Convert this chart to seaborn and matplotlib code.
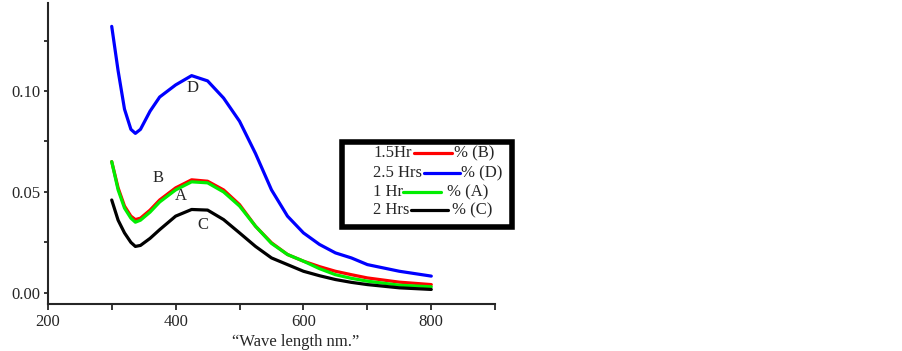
import numpy as np
import pandas as pd
import matplotlib
matplotlib.use("Agg")
import matplotlib.pyplot as plt
import seaborn as sns
from matplotlib.lines import Line2D
from matplotlib.patches import Rectangle

# wavelength (nm) and absorbance
wavelength = [300, 310, 320, 330, 337, 345, 360, 375, 400, 425, 450, 475, 500,
              525, 550, 575, 600, 625, 650, 675, 700, 750, 800]
abs_D = [0.132, 0.110, 0.091, 0.081, 0.079, 0.081, 0.090, 0.097, 0.103, 0.1076,
         0.105, 0.0965, 0.085, 0.069, 0.051, 0.038, 0.0297, 0.024, 0.0198,
         0.0173, 0.014, 0.0107, 0.0083]
abs_B = [0.065, 0.052, 0.043, 0.038, 0.0363, 0.037, 0.041, 0.046, 0.052, 0.056,
         0.0553, 0.051, 0.0437, 0.033, 0.0248, 0.019, 0.0157, 0.013, 0.0107,
         0.009, 0.0074, 0.0053, 0.0041]
abs_A = [0.065, 0.051, 0.042, 0.037, 0.035, 0.036, 0.040, 0.045, 0.051, 0.055,
         0.0545, 0.050, 0.043, 0.033, 0.0245, 0.019, 0.0157, 0.012, 0.009,
         0.0072, 0.0058, 0.0038, 0.003]
abs_C = [0.046, 0.036, 0.0297, 0.025, 0.023, 0.0235, 0.027, 0.0313, 0.038, 0.0413,
         0.041, 0.0363, 0.0297, 0.023, 0.0173, 0.014, 0.0107, 0.0085, 0.0066,
         0.0052, 0.0041, 0.0025, 0.0017]

series = {"B": abs_B, "D": abs_D, "A": abs_A, "C": abs_C}
colors = {"B": "#ff0000", "D": "#0000ff", "A": "#00ee00", "C": "#000000"}

df = pd.concat([pd.DataFrame({"wl": wavelength, "abs": v, "curve": k})
                for k, v in series.items()], ignore_index=True)

sns.set_style("ticks")
plt.rcParams["font.family"] = ["Liberation Serif", "DejaVu Serif"]

fig = plt.figure(figsize=(9.02, 3.51), dpi=100)
ax = fig.add_axes([0.053, 0.134, 0.496, 0.857])

sns.lineplot(data=df, x="wl", y="abs", hue="curve", palette=colors,
             hue_order=["B", "D", "A", "C"], linewidth=2.3, legend=False, ax=ax)

ax.set_xlim(200, 900)
ax.set_ylim(-0.0055, 0.1435)
ax.set_xticks([200, 400, 600, 800])
ax.set_xticks([300, 500, 700, 900], minor=True)
ax.set_yticks([0.0, 0.05, 0.10])
ax.set_yticklabels(["0.00", "0.05", "0.10"])
ax.set_yticks([0.025, 0.075, 0.125], minor=True)
ax.tick_params(axis="both", which="both", direction="out", length=4, width=1.3,
               labelsize=12, pad=3)
ax.tick_params(axis="y", which="both", length=3, pad=2)
sns.despine(ax=ax)
for s in ["left", "bottom"]:
    ax.spines[s].set_linewidth(1.5)
ax.set_xlabel("")
ax.set_ylabel("")
ax.text(0.553, -0.126, "\u201cWave length nm.\u201d", transform=ax.transAxes,
        ha="center", va="center", fontsize=12)

for lab, x, y in [("D", 427, 0.1015), ("B", 373, 0.057), ("A", 408, 0.048),
                  ("C", 442, 0.0337)]:
    ax.text(x, y, lab, ha="center", va="center", fontsize=12)

# custom legend box in pixel coordinates
W, H = 902, 351
def fx(px):
    return px / W
def fy(py):
    return 1 - py / H

fig.patches.append(Rectangle((fx(342), fy(227)), fx(512) - fx(342), fy(142) - fy(227),
                             transform=fig.transFigure, fill=False, lw=4,
                             edgecolor="black"))
rows = [("1.5Hr", "B", 153, 414, 452, 454),
        ("2.5 Hrs", "D", 173, 424, 460, 461),
        ("1 Hr", "A", 192, 403, 441, 447),
        ("2 Hrs", "C", 210, 411, 448, 452)]
for txt, key, py, x0, x1, xt in rows:
    fig.text(fx(373), fy(py), txt, ha="left", va="center", fontsize=12)
    fig.lines.append(Line2D([fx(x0), fx(x1)], [fy(py), fy(py)],
                            transform=fig.transFigure, color=colors[key], lw=2.3))
    fig.text(fx(xt), fy(py), "% (" + key + ")", ha="left", va="center", fontsize=12)

fig.savefig("out.png", dpi=100)
